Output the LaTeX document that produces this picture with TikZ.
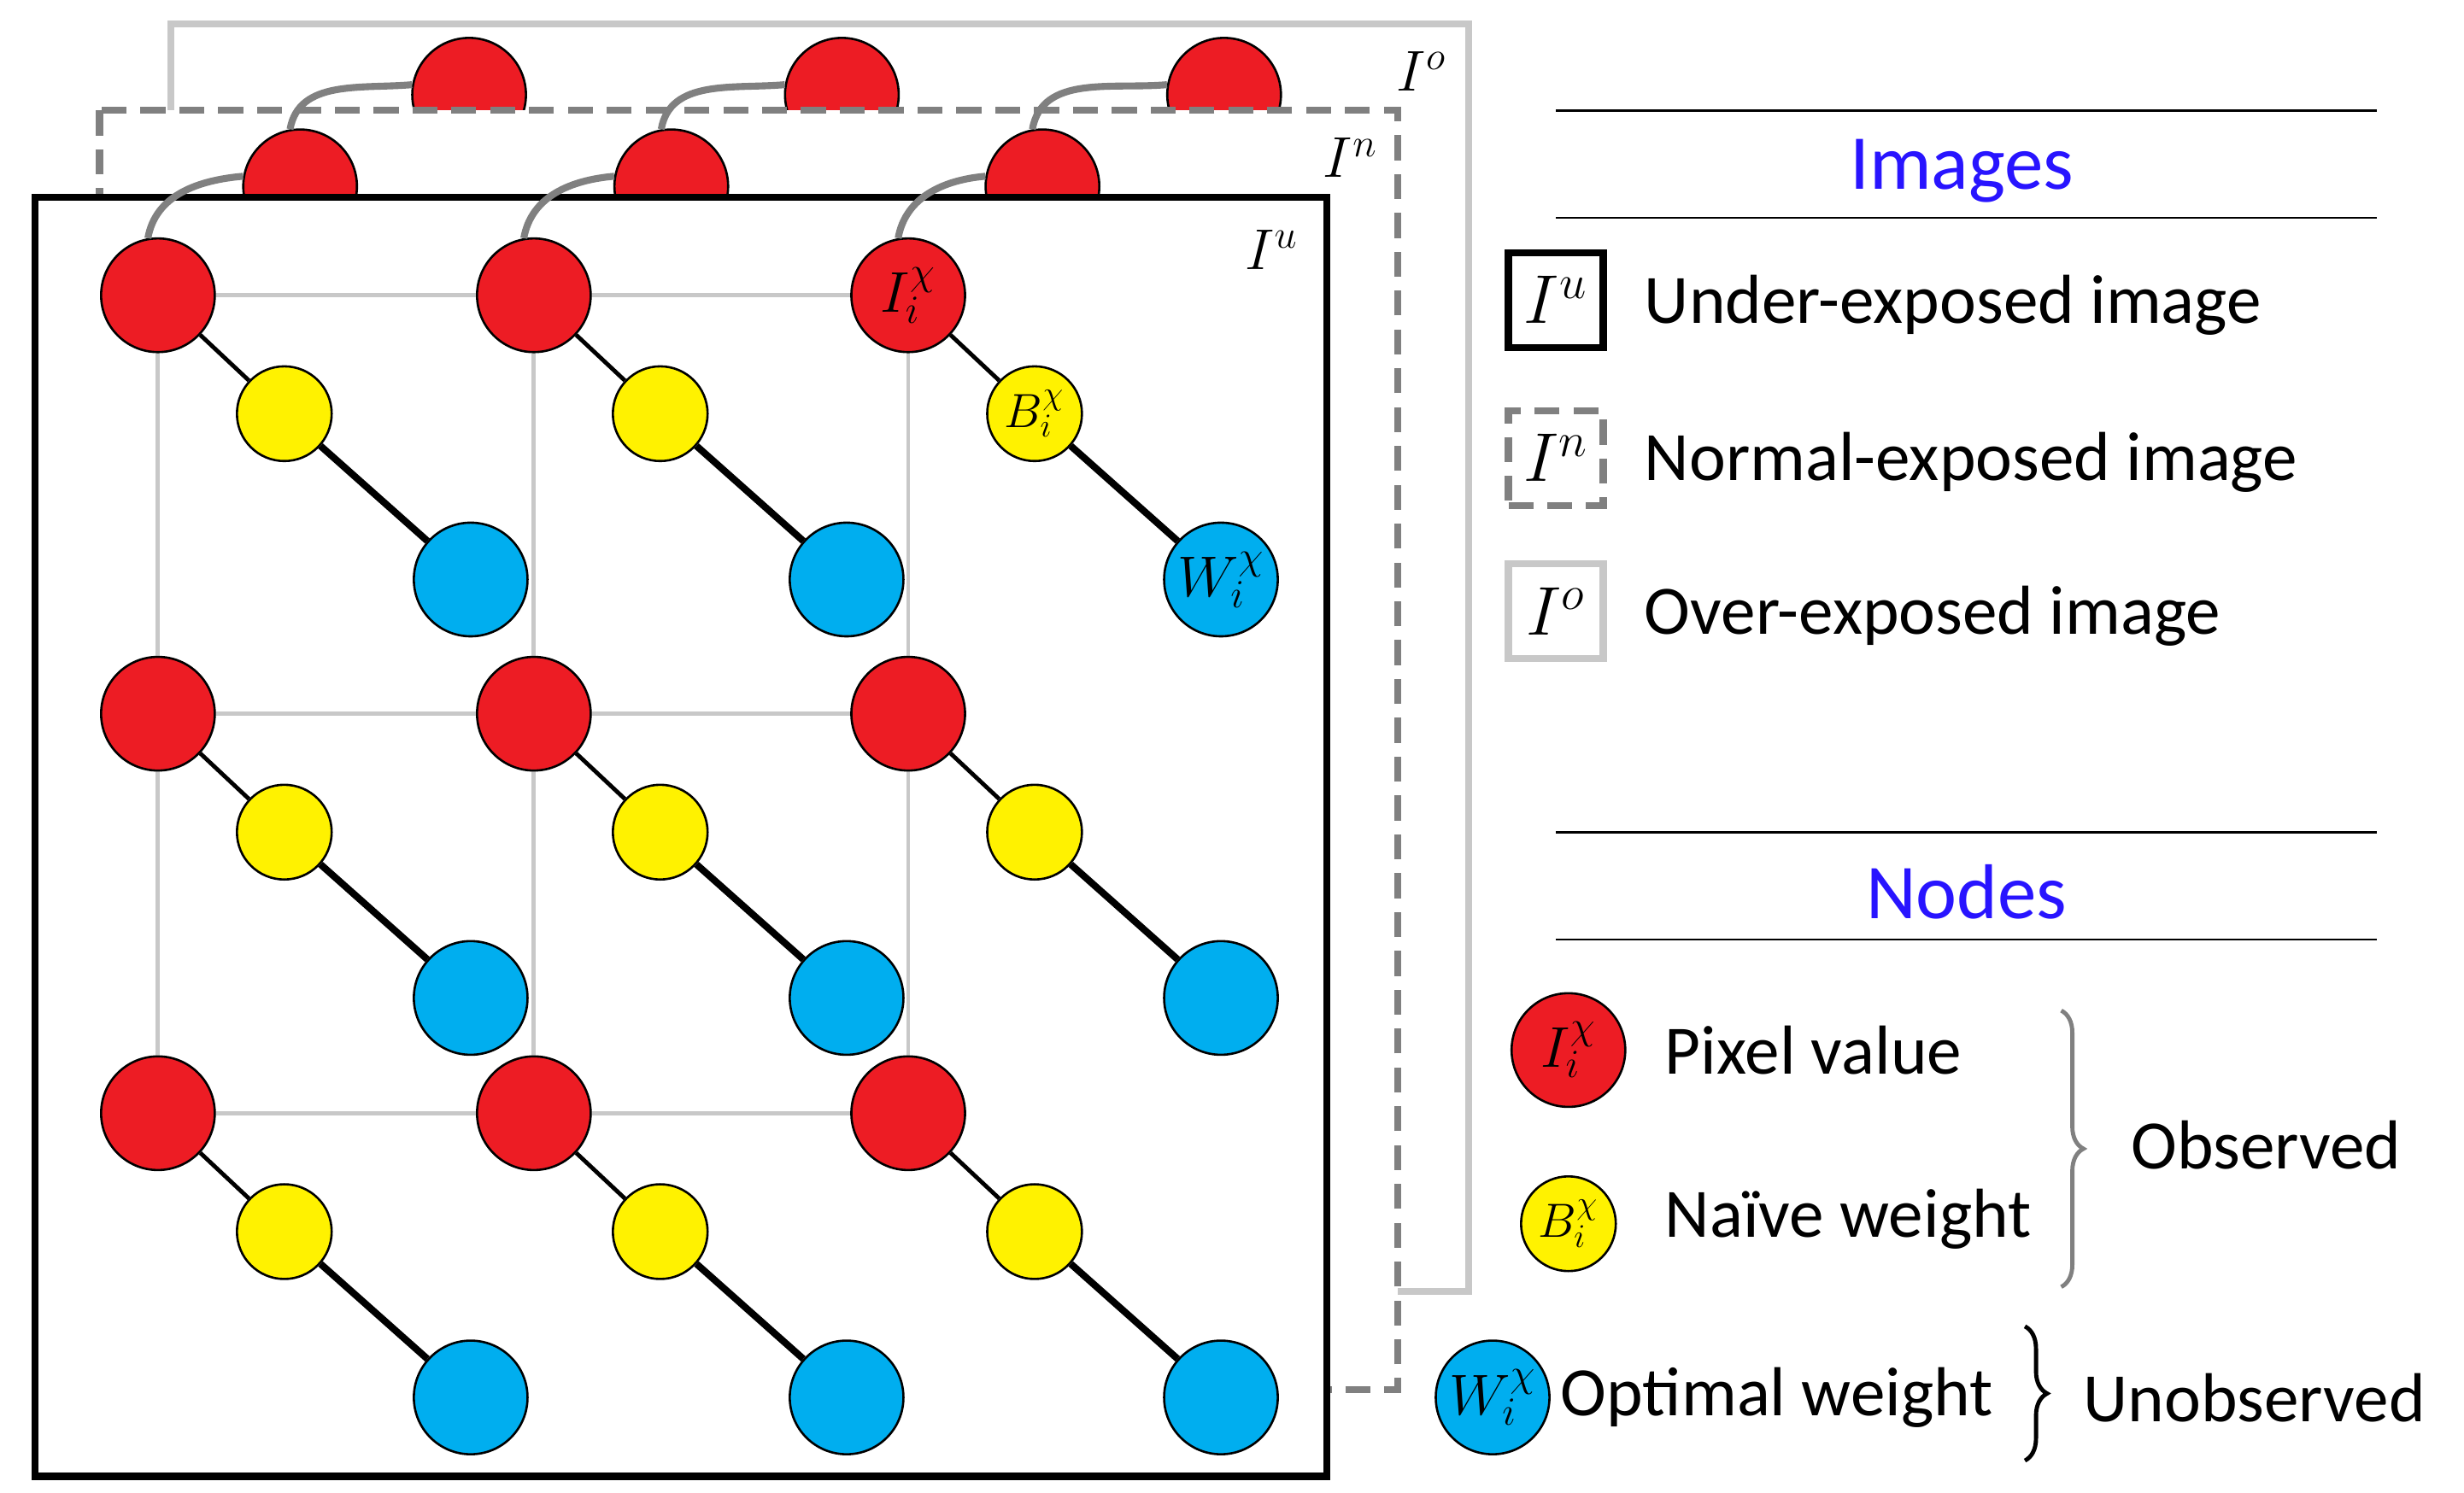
\documentclass[tikz,border=0pt]{standalone}
\usepackage{fontspec}
\setmainfont{Carlito}
\usepackage{tikz}
\usetikzlibrary{positioning,decorations.pathreplacing}

\definecolor{pixred}{RGB}{237,28,36}
\definecolor{naiyel}{RGB}{255,242,0}
\definecolor{optblue}{RGB}{0,174,239}
\definecolor{headblue}{RGB}{40,20,255}
\definecolor{edgegray}{RGB}{200,200,200}

\begin{document}
\begin{tikzpicture}[
    x=0.02cm, y=-0.02cm,
    pix/.style={circle, draw, thick, fill=pixred, minimum size=1.44cm, inner sep=0pt},  % pixel value
    nai/.style={circle, draw, thick, fill=naiyel, minimum size=1.2cm, inner sep=0pt},   % naive weight
    opt/.style={circle, draw, thick, fill=optblue, minimum size=1.44cm, inner sep=0pt},  % optimal weight
    grid/.style={edgegray, line width=1.5pt},
    link/.style={gray, line width=2.5pt},
    dashframe/.style={gray, line width=2.5pt, dash pattern=on 9pt off 5pt},
    lbl/.style={font=\fontsize{25}{30}\selectfont, anchor=west},
    head/.style={font=\fontsize{28}{32}\selectfont, text=headblue},
    mlbl/.style={font=\fontsize{22}{24}\selectfont}
    ]
    \useasboundingbox (0,0) rectangle (1560,945);

    % over-exposed layer
    \draw[edgegray, line width=2.5pt] (108,15) rectangle (930,818);
    \node[pix] (po1) at (297,60) {};
    \node[pix] (po2) at (533,60) {};
    \node[pix] (po3) at (775,60) {};
    \node[mlbl] (lo) at (900,45) {$I^{o}$};

    % normal-exposed layer
    \fill[white] (63,70) rectangle (885,880);
    \draw[dashframe] (63,70) rectangle (885,880);
    \node[pix] (pn1) at (190,118) {};
    \node[pix] (pn2) at (425,118) {};
    \node[pix] (pn3) at (660,118) {};
    \node[mlbl] (ln) at (855,100) {$I^{n}$};
    \foreach \c in {1,2,3}
        \draw[link] (pn\c.100) to[out=80,in=185] (po\c.170);

    % under-exposed layer
    \fill[white] (22,125) rectangle (840,935);
    \draw[line width=2.5pt] (22,125) rectangle (840,935);
    \node[mlbl] (lu) at (805,158) {$I^{u}$};

    % grid lines between the pixel nodes
    \foreach \x in {100,338,575}
        \draw[grid] (\x,187) -- (\x,705);
    \foreach \y in {187,452,705}
        \draw[grid] (100,\y) -- (575,\y);

    % grid of nodes
    \foreach \c/\x in {1/100,2/338,3/575}
        \foreach \r/\y in {1/187,2/452,3/705} {
            \node[pix] (p\c\r) at (\x,\y) {};
            \node[nai] (b\c\r) at (\x+80,\y+75) {};
            \node[opt] (w\c\r) at (\x+198,\y+180) {};
            \draw[line width=1.5pt] (p\c\r) -- (b\c\r);
            \draw[line width=2.5pt] (b\c\r) -- (w\c\r);
        }
    \foreach \c in {1,2,3}
        \draw[link] (p\c1.100) to[out=80,in=185] (pn\c.170);

    % labels inside the last column
    \node[mlbl] at (p31) {$I_i^{\chi}$};
    \node[font=\fontsize{17}{19}\selectfont] at (b31) {$B_i^{\chi}$};
    \node[mlbl] at (w31) {$W_i^{\chi}$};

    % legend: images
    \draw[thick] (985,70) -- (1505,70);
    \draw[thick] (985,138) -- (1505,138);
    \node[head] (himg) at (1242,108) {Images};
    \node[draw, line width=2.5pt, minimum size=1.2cm, font=\fontsize{26}{28}\selectfont] (ku) at (985,190) {$I^{u}$};
    \node[draw, dashframe, minimum size=1.2cm, font=\fontsize{26}{28}\selectfont, text=black] (kn) at (985,290) {$I^{n}$};
    \node[draw, edgegray, line width=2.5pt, minimum size=1.2cm, font=\fontsize{26}{28}\selectfont, text=black] (ko) at (985,387) {$I^{o}$};
    \node[lbl] (tu) at (1035,193) {Under-exposed image};
    \node[lbl] (tn) at (1035,293) {Normal-exposed image};
    \node[lbl] (to) at (1035,390) {Over-exposed image};

    % legend: nodes
    \draw[thick] (985,527) -- (1505,527);
    \draw[thick] (985,595) -- (1505,595);
    \node[head] (hnod) at (1245,565) {Nodes};
    \node[pix, mlbl] (kp) at (993,665) {$I_i^{\chi}$};
    \node[nai, font=\fontsize{17}{19}\selectfont] (kb) at (993,775) {$B_i^{\chi}$};
    \node[opt, mlbl] (kw) at (945,885) {$W_i^{\chi}$};
    \node[lbl] (tp) at (1048,665) {Pixel value};
    \node[lbl] (tb) at (1048,772) {Naïve weight};
    \node[lbl] (tw) at (982,885) {Optimal weight};

    % braces
    \coordinate (ob1) at (1305,640);
    \coordinate (ob2) at (1305,815);
    \draw[gray, line width=1.5pt, decorate, decoration={brace, amplitude=8pt}] (ob1) -- (ob2);
    \node[lbl] (tobs) at (1343,725) {Observed};
    \coordinate (ub1) at (1282,840);
    \coordinate (ub2) at (1282,925);
    \draw[line width=1.5pt, decorate, decoration={brace, amplitude=8pt}] (ub1) -- (ub2);
    \node[lbl] (tunobs) at (1313,885) {Unobserved};
\end{tikzpicture}
\end{document}
